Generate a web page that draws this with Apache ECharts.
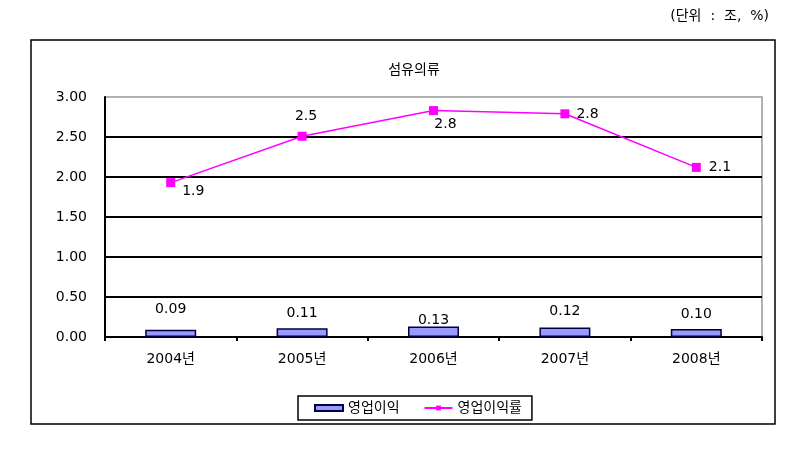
<!DOCTYPE html>
<html><head><meta charset="utf-8">
<script src="https://cdn.jsdelivr.net/npm/echarts@6/dist/echarts.min.js"></script>
<style>html,body{margin:0;padding:0;background:#fff}#c{width:804px;height:451px}</style>
</head><body><div id="c"></div>
<script>
const categories = ['2004년','2005년','2006년','2007년','2008년'];
const profit = [0.09, 0.11, 0.13, 0.12, 0.10];
const profitRate = [1.93, 2.51, 2.83, 2.79, 2.12];
const profitRateLabels = ['1.9','2.5','2.8','2.8','2.1'];
const yTicks = [0, 0.5, 1, 1.5, 2, 2.5, 3];

const FONT = '"DejaVu Sans", "Noto Sans CJK KR", sans-serif';
const ratePos = [
  {position:'right', offset:[2,9]},
  {position:'top', offset:[4,-3]},
  {position:'bottom', offset:[12,-3]},
  {position:'right', offset:[2,1]},
  {position:'right', offset:[3,0]}
];
const barLabelOffset = [[0,-5],[0,0],[0,9],[0,-1],[0,0]];

const chart = echarts.init(document.getElementById('c'));
chart.setOption({
  animation:false,
  textStyle:{fontFamily:FONT},
  title:{text:'섬유의류', left:409, top:58, textAlign:'center',
    textStyle:{fontSize:14, fontWeight:'normal', color:'#000', fontFamily:FONT}},
  graphic:[
    {type:'rect', shape:{x:31, y:40, width:744, height:384}, style:{fill:'none', stroke:'#000', lineWidth:1.5}, silent:true},
    {type:'text', right:35, top:9, style:{text:'(단위  :  조,  %)', fontSize:14, fill:'#000', fontFamily:FONT}}
  ],
  grid:{left:105, top:97, width:657, height:240, show:true, borderColor:'#999', borderWidth:1.5, backgroundColor:'transparent'},
  legend:{
    left:298, top:396, itemGap:24, itemWidth:28, itemHeight:6,
    borderColor:'#000', borderWidth:1.5, padding:[5,10,5,16],
    textStyle:{fontSize:14, color:'#000', fontFamily:FONT},
    data:[{name:'영업이익', icon:'rect'}, {name:'영업이익률'}]
  },
  xAxis:{
    type:'category', data:categories,
    axisLine:{lineStyle:{color:'#000', width:2}},
    axisTick:{show:true, length:4, lineStyle:{color:'#000', width:2}, alignWithLabel:false},
    axisLabel:{color:'#000', fontSize:14, margin:15, fontFamily:FONT}
  },
  yAxis:{
    type:'value', min:0, max:3, interval:0.5,
    axisLine:{show:true, lineStyle:{color:'#000', width:2}},
    axisTick:{show:false},
    axisLabel:{color:'#000', fontSize:14, margin:18, fontFamily:FONT,
      formatter:v=>v.toFixed(2)},
    splitLine:{show:true, showMaxLine:false, lineStyle:{color:'#000', width:2}}
  },
  series:[
    {name:'영업이익', type:'bar', data:profit.map((v,i)=>({value:v, label:{offset:barLabelOffset[i]}})), barWidth:51,
      itemStyle:{color:'#9999FF', borderColor:'#000040', borderWidth:1.5},
      label:{show:true, position:'top', distance:8, color:'#000', fontSize:14, fontFamily:FONT,
        formatter:p=>p.value.toFixed(2)}},
    {name:'영업이익률', type:'line', data:profitRate.map((v,i)=>({value:v, label:ratePos[i]})),
      symbol:'rect', symbolSize:9,
      lineStyle:{color:'#FF00FF', width:1.5}, itemStyle:{color:'#FF00FF'},
      label:{show:true, color:'#000', fontSize:14, fontFamily:FONT,
        formatter:p=>profitRateLabels[p.dataIndex]}}
  ]
});
</script></body></html>
